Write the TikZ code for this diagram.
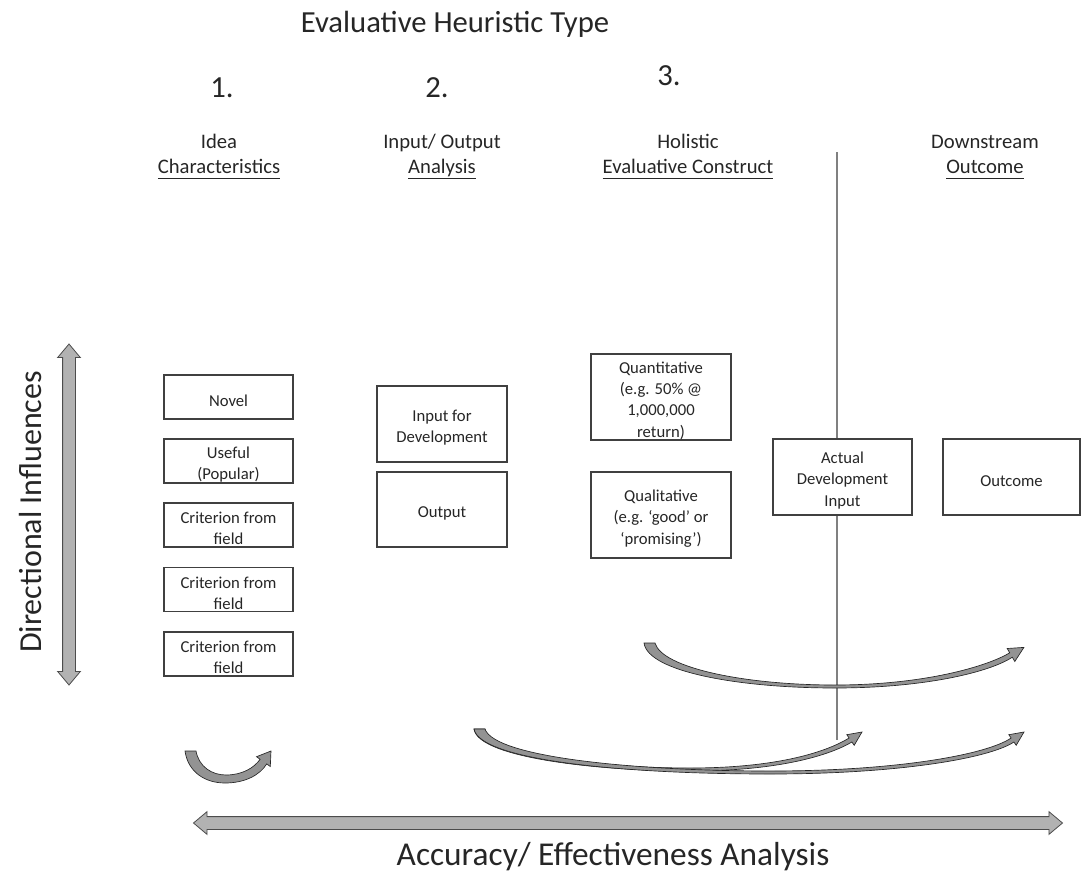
\documentclass[tikz,border=0pt]{standalone}
\usepackage{fontspec}
\setmainfont{Carlito}
\usetikzlibrary{shapes.arrows}

\newcommand{\ulword}[1]{\underline{\raisebox{0pt}[\height][0.12em]{#1}}}
\newcommand{\topgap}{\rule{0pt}{14pt}}

\tikzset{
  critbox/.style={draw=black!75, line width=1.1pt, fill=white, inner sep=0pt, align=center,
    font=\fontsize{12.5}{16}\selectfont, text=black!85},
  heading/.style={align=center, inner sep=0pt, anchor=north, font=\fontsize{15.5}{19}\selectfont, text=black!85},
  bigtext/.style={font=\fontsize{23}{28}\selectfont, text=black!85},
  bigarrow/.style={double arrow, draw=black!70, line width=0.6pt, fill=gray!60, inner sep=4.5pt,
    double arrow head extend=3.75pt, double arrow tip angle=80},
  curvearrow/.style={draw=black!85, line width=0.5pt, fill=gray!85},
}

\begin{document}
\begin{tikzpicture}[x=0.75pt, y=-0.75pt]
    \useasboundingbox (0,0) rectangle (1083,875);

    \node[bigtext, anchor=base] (title) at (455,32) {Evaluative Heuristic Type};
    \node[bigtext, anchor=base] (num1) at (222,97) {1.};
    \node[bigtext, anchor=base] (num2) at (437,97) {2.};
    \node[bigtext, anchor=base] (num3) at (669,85) {3.};

    \node[heading] (idea) at (219,130.5) {\strut Idea\\\ulword{Characteristics}};
    \node[heading] (inout) at (442,130.5) {\strut Input/ Output\\\ulword{Analysis}};
    \node[heading] (holistic) at (688,130.5) {\strut Holistic\\\ulword{Evaluative Construct}};
    \node[heading] (downstream) at (985,130.5) {\strut Downstream\\\ulword{Outcome}};

    % divider
    \coordinate (linetop) at (837,152);
    \coordinate (linebot) at (837,740);
    \draw[black!50, line width=1.3pt] (linetop) -- (linebot);

    \node[critbox, minimum width=96.75pt, minimum height=33pt] (novel) at (228.5,397) {\topgap Novel};
    \node[critbox, minimum width=96.75pt, minimum height=33pt] (useful) at (228.5,461) {\topgap Useful\\(Popular)};
    \node[critbox, minimum width=96.75pt, minimum height=33pt] (crit1) at (228.5,525) {\topgap Criterion from\\field};
    \node[critbox, minimum width=96.75pt, minimum height=33pt] (crit2) at (228.5,589.5) {\topgap Criterion from\\field};
    \node[critbox, minimum width=96.75pt, minimum height=33pt] (crit3) at (228.5,654) {\topgap Criterion from\\field};

    \node[critbox, minimum width=97.5pt, minimum height=57pt] (devinput) at (442,424) {\topgap Input for\\Development};
    \node[critbox, minimum width=97.5pt, minimum height=56pt] (output) at (442,509.5) {\topgap Output};

    \node[critbox, minimum width=105pt, minimum height=64.5pt] (quant) at (661,397) {\topgap Quantitative\\(e.g. 50\% @\\1,000,000\\return)};
    \node[critbox, minimum width=105pt, minimum height=64.5pt] (qual) at (661,515) {\topgap Qualitative\\(e.g. ‘good’ or\\‘promising’)};

    \node[critbox, minimum width=104.25pt, minimum height=57pt] (actual) at (842.5,477) {\topgap Actual\\Development\\Input};
    \node[critbox, minimum width=102.75pt, minimum height=57pt] (outcome) at (1011.5,477) {\topgap Outcome};

    \node[bigarrow, minimum height=255.75pt, rotate=90] (dirarrow) at (69,514.5) {};
    \node[bigtext, font=\fontsize{24}{29}\selectfont, rotate=90] (dirlabel) at (31,512) {Directional Influences};

    \node[bigarrow, minimum height=651.75pt] (accarrow) at (628,823) {};
    \node[bigtext, font=\fontsize{25}{30}\selectfont, anchor=base] (acclabel) at (613,865) {Accuracy/ Effectiveness Analysis};

    % curved arrows
    \filldraw[curvearrow] (644,643) .. controls (648,672) and (740,688) .. (835,688)
      .. controls (925,688) and (990,672) .. (1012.3,657.2) -- (1014.8,661.5) -- (1023.9,647.4)
      -- (1007.2,648.5) -- (1009.7,652.8) .. controls (988,666) and (925,685) .. (835,685)
      .. controls (745,685) and (662,668) .. (655,643) -- cycle;
    \filldraw[curvearrow] (474,729) .. controls (478,758) and (600,771) .. (690,771)
      .. controls (780,771) and (830,755) .. (851.9,742.0) -- (854.2,745.3) -- (862,732)
      -- (846.8,734.7) -- (849.1,738.0) .. controls (828,751) and (780,768) .. (690,768)
      .. controls (600,768) and (490,755) .. (485,729) -- cycle;
    \filldraw[curvearrow] (474,729) .. controls (480,760) and (620,774) .. (770,774)
      .. controls (900,774) and (990,758) .. (1013.9,742.0) -- (1016.2,745.3) -- (1024,732)
      -- (1008.8,734.7) -- (1011.1,738.0) .. controls (988,754) and (900,771) .. (770,771)
      .. controls (640,771) and (495,758) .. (485,729) -- cycle;
    \filldraw[curvearrow] (185,751) .. controls (188,772) and (205,783) .. (225,783)
      .. controls (245,783) and (260,775) .. (266.7,763.9) -- (270.3,766.5) -- (271,751)
      -- (256.5,756.7) -- (260.1,759.3) .. controls (254,768) and (242,775) .. (226,775)
      .. controls (212,775) and (199,767) .. (196,751) -- cycle;
\end{tikzpicture}
\end{document}
